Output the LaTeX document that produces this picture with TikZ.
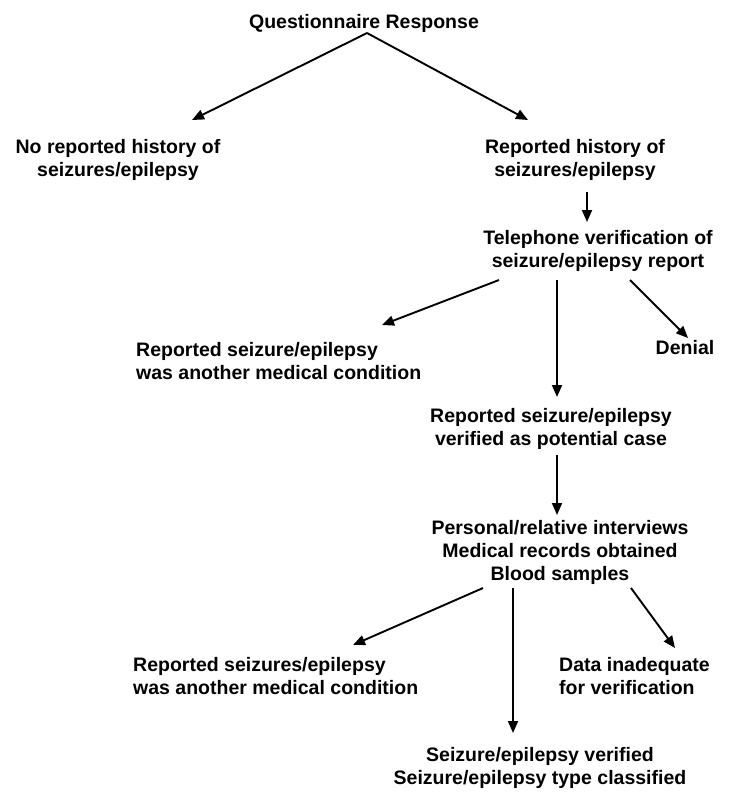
\documentclass[tikz,border=0pt]{standalone}
\usepackage{fontspec}
\setmainfont{Liberation Sans}
\usetikzlibrary{arrows.meta,calc}
\begin{document}
\begin{tikzpicture}[x=1pt,y=-1pt,
  lbl/.style={inner sep=0pt, font=\fontsize{19.5}{23}\selectfont\bfseries, align=center},
  lbll/.style={lbl, align=left},
  arr/.style={line width=1.9pt, -{Triangle[length=12pt,width=10pt]}}]
\useasboundingbox[fill=white] (0,0) rectangle (729,804);
% nodes
\node[lbl,anchor=north] (q) at (364,14) {Questionnaire Response};
\node[lbl,anchor=north] (no) at (118,139) {No reported history of\\seizures/epilepsy};
\node[lbl,anchor=north] (yes) at (575,139) {Reported history of\\seizures/epilepsy};
\node[lbl,anchor=north] (tel) at (598,230) {Telephone verification of\\seizure/epilepsy report};
\node[lbll,anchor=north west] (oth1) at (136,342) {Reported seizure/epilepsy\\was another medical condition};
\node[lbl,anchor=north] (den) at (685,340) {Denial};
\node[lbl,anchor=north] (pot) at (551,408) {Reported seizure/epilepsy\\verified as potential case};
\node[lbl,anchor=north] (pers) at (560,520) {Personal/relative interviews\\Medical records obtained\\Blood samples};
\node[lbll,anchor=north west] (oth2) at (133,657) {Reported seizures/epilepsy\\was another medical condition};
\node[lbll,anchor=north west] (dat) at (559,657) {Data inadequate\\for verification};
\node[lbl,anchor=north] (ver) at (540,747) {Seizure/epilepsy verified\\Seizure/epilepsy type classified};
% connectors
\draw[arr] ($(q.north)+(3,19)$) -- ($(no.north)+(74,-19)$);
\draw[arr] ($(q.north)+(3,19)$) -- ($(yes.north)+(-47,-19)$);
\draw[arr] ($(yes.north)+(12,53)$) -- ($(tel.north)+(-11,-8)$);
\draw[arr] ($(tel.north)+(-99,50)$) -- ($(oth1.north west)+(246,-17)$);
\draw[arr] ($(tel.north)+(-41,50)$) -- ($(pot.north)+(6,-11)$);
\draw[arr] ($(tel.north)+(32,50)$) -- ($(den.north)+(3,-2)$);
\draw[arr] ($(pot.north)+(6,47)$) -- ($(pers.north)+(-3,-5)$);
\draw[arr] ($(pers.north)+(-77,68)$) -- ($(oth2.north west)+(220,-12)$);
\draw[arr] ($(pers.north)+(-47,68)$) -- ($(ver.north)+(-27,-14)$);
\draw[arr] ($(pers.north)+(71,68)$) -- ($(dat.north west)+(116,-9)$);
\end{tikzpicture}
\end{document}
